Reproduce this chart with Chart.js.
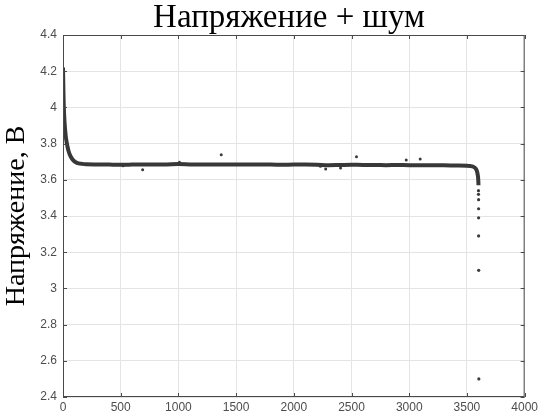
<!DOCTYPE html>
<html>
<head>
<meta charset="utf-8">
<script src="https://cdn.jsdelivr.net/npm/chart.js@4.4.0/dist/chart.umd.min.js"></script>
<style>
    html, body { margin: 0; padding: 0; background: #fff; }
    #wrap { width: 541px; height: 419px; }
</style>
</head>
<body>
<div id="wrap"><canvas id="voltChart"></canvas></div>
<script>
const chartTitle = 'Напряжение + шум';
const yTitle = 'Напряжение, В';

const bandX = [0, 2, 4, 6, 9, 13, 18, 24, 31, 40, 50, 62, 75, 90, 110, 135, 165, 200,
    300, 400, 500, 600, 700, 800, 900, 1000, 1100, 1200, 1300, 1400, 1500, 1600, 1700,
    1800, 1900, 2000, 2100, 2200, 2300, 2400, 2500, 2600, 2700, 2800, 2900, 3000,
    3100, 3200, 3300, 3400, 3500, 3530, 3555, 3570, 3580, 3588, 3594, 3598, 3600];
const bandY = [4.22, 4.15, 4.08, 4.02, 3.97, 3.92, 3.88, 3.84, 3.81, 3.78, 3.755, 3.735, 3.72, 3.707, 3.697, 3.691, 3.688, 3.686,
    3.685, 3.684, 3.683, 3.684, 3.685, 3.684, 3.685, 3.687, 3.685, 3.684, 3.685, 3.684, 3.684, 3.685, 3.684,
    3.684, 3.683, 3.684, 3.684, 3.683, 3.681, 3.682, 3.683, 3.682, 3.682, 3.681, 3.682, 3.681,
    3.681, 3.680, 3.680, 3.679, 3.678, 3.676, 3.672, 3.666, 3.658, 3.645, 3.625, 3.600, 3.57];

// Points of the final voltage drop
const dropX = [3600, 3600, 3601, 3601, 3601, 3601, 3602, 3603];
const dropY = [3.54, 3.52, 3.49, 3.44, 3.39, 3.29, 3.10, 2.50];

// Isolated noise points
const noiseX = [520, 690, 1009, 1371, 2230, 2276, 2405, 2543, 2974, 3095];
const noiseY = [3.677, 3.655, 3.697, 3.738, 3.675, 3.660, 3.665, 3.727, 3.710, 3.715];

const xTicks = [0, 500, 1000, 1500, 2000, 2500, 3000, 3500, 4000];
const yTicks = [2.4, 2.6, 2.8, 3, 3.2, 3.4, 3.6, 3.8, 4, 4.2, 4.4];

const toPoints = (xs, ys) => xs.map((x, i) => ({ x: x, y: ys[i] }));

// Box around the plot with inward ticks, MATLAB style, plus the title
const boxPlugin = {
    id: 'box',
    afterDraw(chart) {
        const { ctx, chartArea: a, scales } = chart;
        ctx.save();
        ctx.strokeStyle = '#4a4a4a';
        ctx.lineWidth = 1;
        ctx.strokeRect(a.left + 0.5, a.top + 0.5, a.right - a.left - 1, a.bottom - a.top - 1);
        ctx.beginPath();
        xTicks.forEach(v => {
            const px = Math.round(scales.x.getPixelForValue(v)) + 0.5;
            ctx.moveTo(px, a.bottom); ctx.lineTo(px, a.bottom - 4);
            ctx.moveTo(px, a.top); ctx.lineTo(px, a.top + 4);
        });
        yTicks.forEach(v => {
            const py = Math.round(scales.y.getPixelForValue(v)) + 0.5;
            ctx.moveTo(a.left, py); ctx.lineTo(a.left + 4, py);
            ctx.moveTo(a.right, py); ctx.lineTo(a.right - 4, py);
        });
        ctx.stroke();

        // title sits a bit right of the plot centre in the original
        ctx.fillStyle = '#000';
        ctx.font = '33px "Liberation Serif"';
        ctx.textAlign = 'center';
        ctx.textBaseline = 'alphabetic';
        ctx.fillText(chartTitle, 289, 27);
        ctx.restore();
    }
};

const ctx = document.getElementById('voltChart').getContext('2d');
new Chart(ctx, {
    type: 'scatter',
    data: {
        datasets: [
            {
                label: 'band',
                data: toPoints(bandX, bandY),
                showLine: true,
                borderColor: '#383838',
                borderWidth: 4,
                pointRadius: 0,
                cubicInterpolationMode: 'monotone'
            },
            {
                label: 'drop',
                data: toPoints(dropX, dropY),
                backgroundColor: '#3a3a3a',
                borderWidth: 0,
                pointRadius: 1.6
            },
            {
                label: 'noise',
                data: toPoints(noiseX, noiseY),
                backgroundColor: '#3a3a3a',
                borderWidth: 0,
                pointRadius: 1.5
            }
        ]
    },
    options: {
        responsive: true,
        maintainAspectRatio: false,
        animation: false,
        layout: { padding: { left: 0, right: 11, top: 35, bottom: 0 } },
        plugins: {
            legend: { display: false },
            tooltip: { enabled: false },
            title: { display: false }
        },
        scales: {
            x: {
                type: 'linear',
                min: 0,
                max: 4000,
                afterBuildTicks: (scale) => { scale.ticks = xTicks.map(v => ({ value: v })); },
                afterFit: (scale) => { scale.height = 22; },
                ticks: {
                    color: '#4d4d4d',
                    font: { family: 'Liberation Sans', size: 12 },
                    padding: 3,
                    maxRotation: 0,
                    autoSkip: false,
                    callback: (value) => String(value)
                },
                grid: { color: '#e4e4e4', drawTicks: false },
                border: { display: false }
            },
            y: {
                type: 'linear',
                min: 2.4,
                max: 4.4,
                afterBuildTicks: (scale) => { scale.ticks = yTicks.map(v => ({ value: v })); },
                afterFit: (scale) => { scale.width = 63; },
                ticks: {
                    color: '#4d4d4d',
                    font: { family: 'Liberation Sans', size: 12 },
                    padding: 6,
                    autoSkip: false,
                    callback: (value) => String(Math.round(value * 10) / 10)
                },
                grid: { color: '#e4e4e4', drawTicks: false },
                border: { display: false },
                title: {
                    display: true,
                    text: yTitle,
                    color: '#000',
                    font: { family: 'Liberation Serif', size: 28, weight: 'normal' },
                    padding: { top: 0, bottom: 0 }
                }
            }
        }
    },
    plugins: [boxPlugin]
});
</script>
</body>
</html>
